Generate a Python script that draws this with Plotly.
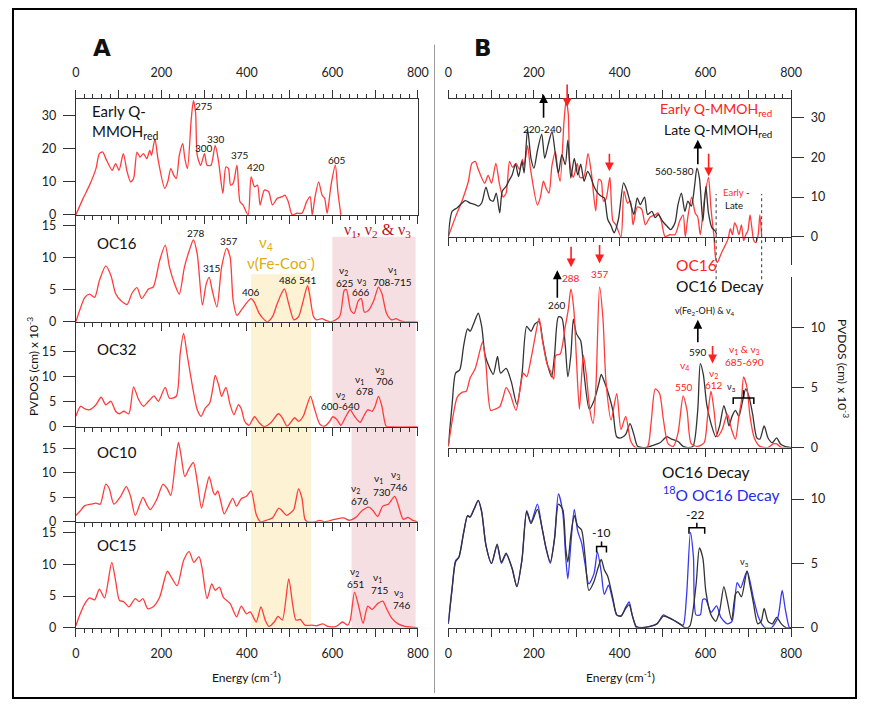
import plotly.graph_objects as go

# page body has an 8px margin: figure is sized to fit inside the 876x714 window
OFF = 8
FW, FH = 876 - 2 * OFF, 714 - 2 * OFF

# ---------------- data (Energy cm-1, PVDOS x10^-3) ----------------
early_e = [0,17,32,47,55,63,70,85,93,101,111,120,128,135,143,150,158,166,173,177,185,192,208,215,222,229,235,242,250,255,261,270,275,280,284,292,301,307,316,326,334,344,351,357,362,368,377,384,391,403,410,418,425,431,441,451,460,471,483,489,497,506,517,529,540,548,553,559,568,576,582,588,597,607,613,620]
early_v = [0,5,9,14,18.5,19,17,13.5,15.5,13.5,18.5,13,10,11,19,17.5,18.5,17,19.5,18,23,17,8,10,14,12,11,18,21.5,17,14,29,34.5,31,18,15,18.5,15,15,21,16,6.5,14.5,14,9,9.5,15,4,3,0,11.5,8.5,9,3,7.5,7,3,5,5.5,6,4,0,0.5,0.5,4,5.5,0,5,10,6,5,0.5,9,15,7,0]

oc16_e = [0,9,21,32,44,55,70,82,93,105,120,131,143,154,170,181,196,209,219,231,242,254,265,275,284,296,305,312,319,330,341,353,361,368,377,387,399,410,417,429,441,448,460,471,481,488,498,510,521,532,542,548,556,563,575,586,597,617,628,633,643,651,661,668,675,685,697,708,716,727,739,749,758,770,800]
oc16_v = [0,1.8,3.8,4.3,3.8,6.4,8.7,7.2,4.4,3.3,2.7,4.4,5.3,3.6,5.1,5.4,9.5,11.9,8.5,5.9,4.3,8.5,11,12.7,10.5,2.6,5.9,6.9,4.9,2.3,8.5,11.4,10,3.3,1,1.8,2.9,3.6,3.1,1.3,0.3,0,0.8,2.8,4.4,5.1,2.8,0.3,0.8,3.3,5.6,3.8,0.8,0.3,0.5,0.2,0,0.8,4.9,5,1.8,1.3,3.3,3.6,1.5,1.8,3.3,5.4,4.4,1.3,0.3,0.5,0.2,0,0]

oc32_e = [0,11,21,32,47,59,70,82,93,102,112,124,135,147,158,170,183,193,209,219,235,244,252,260,273,284,293,303,313,321,326,334,341,351,361,370,380,387,395,405,418,429,441,456,474,483,494,502,512,521,532,540,549,559,571,582,594,601,611,620,632,642,651,665,674,683,693,700,708,716,726,735,800]
oc32_v = [2.1,4.1,3.6,3.4,4.4,5.9,4.4,5.1,3.1,2.6,3.1,2.6,8.0,5.4,4.1,5.1,6.2,5.1,7.9,5.7,6.1,14.6,18.7,14.6,8.0,3.4,2.1,3.8,4.7,8.0,10.3,8.4,6.1,7.9,4.4,2.4,4.4,3.6,1.1,0.3,2.0,0.8,0,0.8,2.6,1.8,0.1,0.8,1.8,1.1,2.1,4.1,6.1,3.4,0.5,0.1,1.1,2.0,1.4,0.3,2.1,3.4,2.2,0.9,2.2,3.4,3.1,4.1,6.1,4.1,0.1,0,0]

oc10_e = [0,9,21,36,47,57,70,78,89,105,118,128,139,157,166,174,189,204,214,222,233,240,246,255,265,275,284,294,303,312,321,326,332,339,347,357,367,376,387,399,410,422,432,445,460,475,484,493,502,510,521,529,536,542,559,571,582,605,626,640,655,670,685,695,706,718,731,746,754,766,777,788,800]
oc10_v = [1.3,2.1,3.3,3.6,3.8,3.6,7.7,6.8,3.6,5.2,7.2,5.2,1.3,5.0,3.5,2.5,4.5,7.7,6.7,5.4,12.2,16.2,13.6,9.2,10.9,12.1,8.2,2.8,6.2,9.2,6.2,5.5,6.3,4.2,1.6,3.2,4.8,3.2,4.7,5.2,6.3,1.5,0,0.3,0.8,2.8,2.1,1.3,1.8,2.5,6.7,4.8,0.5,0,0,0.3,0,0.5,0.8,0.3,0.9,2.3,3.0,2.3,1.1,3.2,3.6,5.2,3.5,0.5,0.9,0.3,0]

oc15_e = [0,9,21,32,44,55,67,84,93,102,112,124,139,148,157,168,181,196,214,223,237,252,265,276,288,295,307,318,326,336,345,361,376,387,399,408,422,433,443,452,464,473,483,498,507,515,525,536,552,563,578,590,609,624,636,642,652,662,672,683,693,706,718,727,739,754,770,800]
oc15_v = [0.3,2.0,3.8,4.7,4.4,6.1,4.7,10.3,7.4,4.3,4.1,3.3,4.6,4.1,4.6,3.0,3.3,4.8,8.9,8.0,6.6,10.6,12.0,10.3,11.2,9.5,4.6,6.9,5.9,6.4,4.8,3.8,1.7,3.4,2.2,2.5,0.9,3.3,1.2,0.2,0.9,1.8,1.2,7.7,3.8,1.2,1.3,0.4,0.4,0.3,0.6,0.2,0.2,0.9,0.4,1.2,5.6,3.3,0.7,3.4,2.9,3.8,4.2,3.0,1.5,0.6,0.2,0]

late_e = [0,9,21,40,51,63,70,78,88,97,105,112,120,126,135,143,149,157,164,172,177,185,193,200,208,218,225,233,242,250,257,265,273,279,286,294,302,309,317,325,332,340,349,357,364,372,380,387,397,409,416,426,433,441,448,458,465,475,483,490,500,510,519,529,536,544,552,559,567,575,580,586,594,601,607,615,623,626]
late_v = [0,6.4,7.3,9.1,8.5,8.1,7.7,8.5,12.5,9.4,9.0,11.0,6.0,11.5,12.7,14.4,15.6,18.3,15.2,19.0,16.1,27.2,19.8,17.3,21.7,25.9,19.8,23.2,26.5,20.7,16.1,20.7,18.2,24.4,14.8,19.8,15.6,18.3,14.0,16.5,15.2,12.7,11.0,10.2,9.8,4.4,2.7,1.0,4.4,13.6,11.9,8.1,5.6,9.8,8.1,10.0,5.6,6.4,4.8,5.6,3.9,2.7,1.8,3.5,8.1,11.0,6.4,9.0,7.7,13.1,17.3,14.8,3.9,12.7,6.0,2.3,1.4,0.6]

diff_e = [620,624,628,634,640,647,653,658,663,668,673,678,684,689,694,699,704,708,713,718,723,727,731]
diff_v = [0,-5.5,-6.5,-5.0,-3.5,-2.0,-0.5,2.0,0.5,3.5,2.5,0.5,3.0,-1.0,0.5,1.5,5.5,2.5,-1.0,-1.5,0.5,5.5,0.5]

mdec_e = [0,9,17,27,36,45,51,59,70,78,86,97,105,115,122,135,147,160,172,183,193,202,212,221,231,241,248,257,265,273,279,286,292,299,309,317,329,340,351,357,364,372,384,393,403,414,424,433,442,460,479,494,510,521,536,548,559,571,582,588,595,603,613,624,633,643,649,655,662,670,678,685,694,702,710,720,727,737,746,756,766,775,785,800]
mdec_v = [0.1,3.6,6.2,6.5,8.5,9.9,9.7,10.3,11.2,10.1,7.7,6.6,6.1,7.6,6.2,6.6,5.5,3.6,6.1,10.1,9.7,10.3,10.5,8.8,7.0,5.9,7.7,10.9,10.8,8.5,5.9,7.7,10.7,9.5,8.9,6.1,3.2,3.9,5.3,6.1,5.5,4.7,3.1,0.9,0.8,1.1,2.0,1.1,0.1,0,0.2,0.4,0.9,0.7,0.5,0.1,0,0.1,3.1,7.0,6.1,3.6,2.0,0.9,1.8,3.5,2.8,1.8,2.6,3.1,2.6,3.6,4.9,4.2,2.8,0.8,0.7,1.8,0.8,0.4,0.8,0.3,0.1,0]

moc_e = [0,11,21,32,42,51,63,74,80,88,99,109,120,128,135,144,158,167,175,183,193,202,212,219,231,238,246,251,261,273,280,286,293,299,306,315,322,330,338,345,353,361,368,380,393,403,414,426,437,464,473,483,493,502,513,525,536,548,557,567,582,597,605,613,620,628,639,651,661,670,678,684,689,697,704,714,727,746,758,766,777,800]
moc_v = [0.1,2.6,4.2,4.6,4.7,5.8,6.6,8.1,8.8,6.9,3.1,3.2,3.4,4.2,5.0,4.5,3.1,4.7,6.2,5.9,7.4,9.1,10.8,9.1,6.9,6.4,5.7,7.7,7.8,10.1,11.5,13.2,11.5,7.4,3.2,7.7,6.1,3.2,2.0,5.5,13.4,10.7,5.5,2.3,4.5,1.5,2.6,0.5,0,0,2.0,4.9,4.5,2.3,0.3,0.1,1.2,4.3,3.1,0.3,0.1,0.4,2.6,4.7,3.1,0.9,1.5,2.8,1.5,0.7,2.6,3.9,5.9,5.0,2.6,0.8,0.1,0,0.3,0.3,0,0]

bdec_e = [0,9,17,25,36,45,51,60,70,78,88,101,114,124,135,149,160,172,183,193,208,218,228,238,248,257,267,274,279,286,294,302,311,319,328,340,349,357,364,372,384,393,403,414,422,429,439,452,471,487,502,513,525,540,552,563,578,586,594,601,613,624,633,643,651,661,670,676,684,697,704,712,722,730,737,746,756,766,777,788,800]
bdec_v = [0.3,3.1,5.1,5.5,7.4,8.7,8.6,9.2,9.9,9.0,6.4,5.0,6.5,5.1,5.8,4.6,3.2,5.3,9.0,8.1,9.2,7.9,6.2,5.1,6.9,9.6,9.2,6.2,5.1,7.2,8.7,7.9,7.6,5.6,2.9,3.6,4.6,5.3,4.5,4.0,2.3,1.0,0.9,1.5,1.8,1.0,0.1,0,0.1,0.3,0.9,0.8,0.6,0.3,0,0.1,3.3,6.2,5.4,2.8,1.0,0.5,1.3,3.2,2.1,0.6,2.6,2.8,2.4,4.4,3.3,1.9,0.3,0.5,1.5,0.5,0.3,0.8,0.3,0,0]

b18_e = [0,9,17,25,36,45,51,60,70,78,88,101,114,124,135,149,160,172,183,193,208,218,228,238,248,257,267,274,279,286,294,302,311,319,328,340,348,357,364,374,384,393,403,414,422,429,439,452,471,487,502,513,525,540,548,556,565,572,578,588,594,601,613,626,636,651,662,674,682,697,712,724,739,754,769,779,786,796,800]
b18_v = [0.3,3.0,5.2,5.5,7.4,8.7,8.6,9.2,9.9,9.0,6.4,5.0,6.4,5.0,5.7,4.6,3.2,5.3,9.1,8.2,9.6,7.9,6.2,5.0,7.0,10.4,9.0,5.5,3.8,6.5,9.2,7.5,6.6,5.0,3.4,4.2,5.9,4.3,2.6,3.3,2.1,1.0,0.9,1.6,2.0,1.0,0,0,0.1,0.3,1.0,0.8,0.6,0.3,0.2,2.5,7.4,5.5,1.0,1.0,2.2,2.2,1.2,1.7,0.8,0.3,0.5,3.5,3.1,4.4,2.3,0.8,0,0,0.8,2.9,1.5,0,0]

x_tickvals = [0, 100, 200, 300, 400, 500, 600, 700, 800]
x_ticktext = ["0", "", "200", "", "400", "", "600", "", "800"]
ticks_top_a = [0, 10, 20, 30]
ticks_15 = [0, 5, 10, 15]
ticks_10 = [0, 5, 10]

# ---------------- styling ----------------
RED = "#ff3c3c"
BLACK = "#333333"
BLUE = "#3838f0"
TICKFONT = dict(family="Lato", size=12.5, color="#222")
ANN = "Lato"


def px_x(s):  # screen pixel -> paper
    return (s - OFF) / FW


def px_y(s):
    return 1 - (s - OFF) / FH


def ydom(top, bot):
    return [px_y(bot), px_y(top)]


XA = [px_x(73), px_x(421)]
XB = [px_x(452), px_x(801)]

fig = go.Figure()


def line(x, y, color, xa, ya, width=1.3):
    fig.add_trace(go.Scatter(x=x, y=y, mode="lines", xaxis=xa, yaxis=ya,
                             line=dict(color=color, width=width, shape="spline", smoothing=0.7),
                             hoverinfo="skip", showlegend=False))


# panel A
line(early_e, early_v, RED, "x", "y")
line(oc16_e, oc16_v, RED, "x2", "y2")
line(oc32_e, oc32_v, RED, "x3", "y3")
line(oc10_e, oc10_v, RED, "x4", "y4")
line(oc15_e, oc15_v, RED, "x5", "y5")
# panel B top
line(early_e, early_v, RED, "x6", "y6")
line(late_e, late_v, BLACK, "x6", "y6")
line(diff_e, diff_v, RED, "x9", "y6")
# panel B middle
line(mdec_e, mdec_v, BLACK, "x7", "y7")
line(moc_e, moc_v, RED, "x7", "y7")
# panel B bottom
line(b18_e, b18_v, BLUE, "x8", "y8")
line(bdec_e, bdec_v, BLACK, "x8", "y8")


def xaxis(domain, anchor, labels=False, side="bottom", mirror=False, position=None, overlaying=None,
          standoff=6):
    d = dict(domain=domain, anchor=anchor, range=[0, 800], showgrid=False, zeroline=False,
             showline=True, linecolor="#333", linewidth=1, ticks="outside", ticklen=8,
             tickwidth=1, tickcolor="#333", tickvals=x_tickvals, ticktext=x_ticktext,
             showticklabels=labels, tickfont=TICKFONT, side=side, mirror=mirror,
             ticklabelstandoff=standoff,
             minor=dict(ticks="outside", ticklen=4, dtick=20, tickcolor="#333", tickwidth=1))
    if position is not None:
        d["position"] = position
    if overlaying is not None:
        d["overlaying"] = overlaying
    return d


def yaxis(domain, anchor, rng, tickvals, side="left", mirror=False):
    return dict(domain=domain, anchor=anchor, range=rng, showgrid=False, zeroline=False,
                showline=True, linecolor="#333", linewidth=1, ticks="outside", ticklen=12,
                tickcolor="#333", tickvals=tickvals, tickfont=TICKFONT, side=side, mirror=mirror,
                ticklabelstandoff=4)


layout = dict(
    width=FW, height=FH, margin=dict(l=0, r=0, t=0, b=0),
    paper_bgcolor="white", plot_bgcolor="rgba(0,0,0,0)", showlegend=False,
    xaxis=xaxis(XA, "y", labels=True, side="top", mirror="ticks", standoff=8),
    xaxis2=xaxis(XA, "y2"),
    xaxis3=xaxis(XA, "y3"),
    xaxis4=xaxis(XA, "y4"),
    xaxis5=xaxis(XA, "y5", labels=True),
    xaxis6=xaxis(XB, "y6", labels=True, side="top", standoff=8),
    xaxis7=xaxis(XB, "y7"),
    xaxis8=xaxis(XB, "y8", labels=True),
    xaxis9=xaxis(XB, "free", position=px_y(239), overlaying="x6"),
    yaxis=yaxis(ydom(100, 217), "x", [0, 35], ticks_top_a, mirror=True),
    yaxis2=yaxis(ydom(217, 325), "x2", [0, 16.6], ticks_15),
    yaxis3=yaxis(ydom(325, 431), "x3", [0, 21.0], ticks_15),
    yaxis4=yaxis(ydom(431, 527), "x4", [0, 19.4], ticks_15),
    yaxis5=yaxis(ydom(527, 634), "x5", [0, 16.7], ticks_15),
    yaxis6=yaxis(ydom(100, 268), "x6", [-7.25, 34.75], ticks_top_a, side="right"),
    yaxis7=yaxis(ydom(280, 452), "x7", [0, 14.2], ticks_10, side="right"),
    yaxis8=yaxis(ydom(452, 634), "x8", [0, 14.0], ticks_10, side="right"),
)
fig.update_layout(**layout)

shapes = []
# highlight bands in panel A
shapes.append(dict(type="rect", xref="x2", yref="paper", x0=410, x1=550, y0=px_y(634), y1=px_y(277),
                   fillcolor="#fdf2d3", line=dict(width=0), layer="below"))
for (t, b, x0) in [(239, 325, 600), (325, 431, 600), (431, 634, 645)]:
    shapes.append(dict(type="rect", xref="x2", yref="paper", x0=x0, x1=795, y0=px_y(b), y1=px_y(t),
                       fillcolor="#f6dfe2", line=dict(width=0), layer="below"))
# dashed lines around Early - Late
for e in [625, 731]:
    shapes.append(dict(type="line", xref="x6", yref="paper", x0=e, x1=e, y0=px_y(282), y1=px_y(196),
                       line=dict(color="#555", width=1.2, dash="dot")))
# outer border and separator
shapes.append(dict(type="rect", xref="paper", yref="paper", x0=px_x(9), x1=px_x(867), y0=px_y(705),
                   y1=px_y(9), line=dict(color="black", width=2)))
shapes.append(dict(type="line", xref="paper", yref="paper", x0=px_x(438), x1=px_x(438), y0=px_y(700),
                   y1=px_y(45), line=dict(color="#9a9a9a", width=1)))


def bracket(x0, x1, y, down=6, up=5):
    xm = (x0 + x1) / 2
    p = (f"M {px_x(x0)},{px_y(y + down)} L {px_x(x0)},{px_y(y)} L {px_x(x1)},{px_y(y)} "
         f"L {px_x(x1)},{px_y(y + down)} M {px_x(xm)},{px_y(y)} L {px_x(xm)},{px_y(y - up)}")
    shapes.append(dict(type="path", xref="paper", yref="paper", path=p, line=dict(color="black", width=1.5)))


bracket(742, 763, 402, down=6, up=8)
bracket(603, 613, 552)
bracket(697, 713, 533)
fig.update_layout(shapes=shapes)

anns = []


def T(text, x, y, size=10, color="#111", xanchor="center", family=ANN, angle=0):
    anns.append(dict(text=text, x=px_x(x), y=px_y(y), xref="paper", yref="paper", showarrow=False,
                     xanchor=xanchor, yanchor="middle", textangle=angle,
                     font=dict(family=family, size=size, color=color)))


def arrow(x, yhead, ytail, color):
    anns.append(dict(text="", x=px_x(x), y=px_y(yhead), xref="paper", yref="paper", showarrow=True,
                     ax=0, ay=ytail - yhead, arrowhead=2, arrowsize=1.1, arrowwidth=1.6, arrowcolor=color))


# panel letters
T("<b>A</b>", 100, 48, size=23, family="DejaVu Sans")
T("<b>B</b>", 487, 48, size=23, family="DejaVu Sans")

# axis titles
T("Energy (cm<sup>-1</sup>)", 247, 684, size=12)
T("Energy (cm<sup>-1</sup>)", 627, 684, size=12)
T("PVDOS (cm) x 10<sup>-3</sup>", 30, 370, size=12, angle=-90)
T("PVDOS (cm) x 10<sup>-3</sup>", 853, 372, size=12, angle=90)

# panel A labels
T("Early Q-", 87, 112, size=15, xanchor="left")
T("MMOH<sub>red</sub>", 87, 133, size=15, xanchor="left")
for txt, x, y in [("275", 203, 107), ("300", 203, 149), ("330", 216, 140), ("375", 240, 156),
                  ("420", 256, 169), ("605", 339, 162)]:
    T(txt, x, y)
T("OC16", 92, 245, size=15, xanchor="left")
for txt, x, y in [("278", 195, 235), ("315", 212, 271), ("357", 229, 243), ("406", 251, 295),
                  ("486", 289, 283), ("541", 309, 283), ("625", 347, 286), ("666", 363, 295),
                  ("708-715", 395, 285)]:
    T(txt, x, y)
T("ν<sub>2</sub>", 345, 273)
T("ν<sub>3</sub>", 364, 283)
T("ν<sub>1</sub>", 395, 272)
T("ν<sub>1</sub>, ν<sub>2</sub> &amp; ν<sub>3</sub>", 380, 233, size=16, color="#c0101a", family="Liberation Serif")
T("ν<sub>4</sub>", 267, 245, size=15, color="#e0aa10")
T("ν(Fe-Coo<sup>-</sup>)", 282, 265, size=15, color="#e0aa10")

T("OC32", 92, 352, size=15, xanchor="left")
T("ν<sub>2</sub>", 342, 398)
T("600-640", 342, 410)
T("ν<sub>1</sub>", 362, 383)
T("678", 367, 395)
T("ν<sub>3</sub>", 382, 373)
T("706", 388, 385)

T("OC10", 92, 457, size=15, xanchor="left")
T("ν<sub>2</sub>", 358, 493)
T("676", 362, 506)
T("ν<sub>1</sub>", 381, 483)
T("730", 385, 497)
T("ν<sub>3</sub>", 398, 479)
T("746", 402, 492)

T("OC15", 92, 550, size=15, xanchor="left")
T("ν<sub>2</sub>", 357, 577)
T("651", 358, 590)
T("ν<sub>1</sub>", 380, 583)
T("715", 383, 596)
T("ν<sub>3</sub>", 401, 598)
T("746", 405, 611)

# panel B top
T("Early Q-MMOH<sub>red</sub>", 784, 111, size=14, color="#ff2020", xanchor="right")
T("Late Q-MMOH<sub>red</sub>", 784, 132, size=14, color="#111", xanchor="right")
arrow(549, 95, 120, "black")
T("220-240", 548, 130)
arrow(573, 108, 84, "#ff2020")
arrow(616, 173, 154, "#ff2020")
arrow(706, 141, 167, "black")
T("560-580", 682, 173)
arrow(717, 178, 154, "#ff2020")
T("<span style='color:#ff3030'>Early</span> -", 745, 194, size=9.5)
T("Late", 743, 207, size=9.5)

# panel B middle
arrow(577, 270, 248, "#ff2020")
T("288", 577, 281, color="#ff2020")
arrow(606, 266, 246, "#ff2020")
T("357", 606, 277, color="#ff2020")
arrow(563, 273, 302, "black")
T("260", 563, 308)
T("OC16", 682, 268, size=15.5, color="#ff2020", xanchor="left")
T("OC16 Decay", 682, 289, size=15.5, xanchor="left")
T("ν(Fe<sub>2</sub>-OH) &amp; ν<sub>4</sub>", 713, 314, size=9)
arrow(706, 323, 347, "black")
T("590", 706, 355)
arrow(721, 367, 348, "#ff2020")
T("ν<sub>1</sub> &amp; ν<sub>3</sub>", 753, 353, color="#ff2020")
T("685-690", 753, 366, color="#ff2020")
T("ν<sub>4</sub>", 692, 369, color="#ff2020")
T("550", 692, 391, color="#ff2020")
T("ν<sub>2</sub>", 722, 377, color="#ff2020")
T("612", 722, 389, color="#ff2020")
T("ν<sub>3</sub>", 740, 391, size=9)

# panel B bottom
T("OC16 Decay", 668, 477, size=15.5, xanchor="left")
T("<sup>18</sup>O OC16 Decay", 669, 498, size=15.5, color="#2828ee", xanchor="left")
T("-10", 607, 538, size=12)
T("-22", 703, 520, size=12)
T("ν<sub>3</sub>", 754, 568, size=9)

fig.update_layout(annotations=anns)
fig.write_html("out.html")
